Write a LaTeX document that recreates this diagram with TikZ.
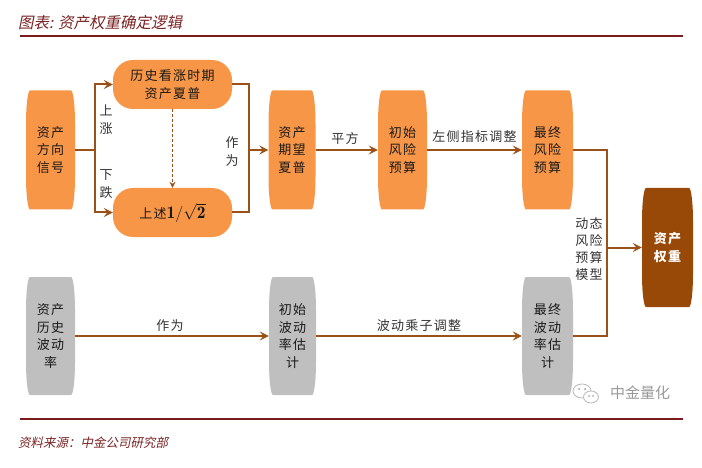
\documentclass[tikz,border=0pt]{standalone}
\usepackage{fontspec}
\usetikzlibrary{arrows.meta,calc}
\newfontfamily\cjk[LetterSpace=10]{Noto Sans CJK SC}
\newfontfamily\cjkit[FakeSlant=0.2]{Noto Sans CJK SC}
\newfontfamily\cjkplain{Noto Sans CJK SC}
\definecolor{orng}{HTML}{F79646}
\definecolor{gry}{HTML}{BFBFBF}
\definecolor{dbrown}{HTML}{984807}
\definecolor{conn}{HTML}{9A5218}
\definecolor{rulecol}{HTML}{7B1B1B}
\definecolor{ttl}{HTML}{7A2323}
\definecolor{lbl}{HTML}{333333}
\definecolor{wm}{HTML}{999999}
\newcommand\halfsym{\scalebox{1.35}{$\mathbf{1}/\sqrt{\mathbf{2}}$}}
\tikzset{
  barrel/.style={inner sep=0pt, align=center, minimum height=119pt, minimum width=49pt,
    font=\cjk\fontsize{13}{17.5}\selectfont, text=black!90,
    path picture={\fill[#1] let \p1=(path picture bounding box.north west),
        \p2=(path picture bounding box.south east), \n1={4pt}, \n2={0.28*(\y1-\y2)} in
        (\x1+\n1,\y1) -- (\x2-\n1,\y1)
        .. controls (\x2-0.45*\n1,\y1) and (\x2,\y1-0.45*\n2) .. (\x2,\y1-\n2)
        -- (\x2,\y2+\n2)
        .. controls (\x2,\y2+0.45*\n2) and (\x2-0.45*\n1,\y2) .. (\x2-\n1,\y2)
        -- (\x1+\n1,\y2)
        .. controls (\x1+0.45*\n1,\y2) and (\x1,\y2+0.45*\n2) .. (\x1,\y2+\n2)
        -- (\x1,\y1-\n2)
        .. controls (\x1,\y1-0.45*\n2) and (\x1+0.45*\n1,\y1) .. cycle;}},
  pill/.style={rounded corners=20pt, fill=orng, minimum width=119pt, minimum height=49pt,
    inner sep=0pt, align=center, font=\cjk\fontsize{13}{18}\selectfont, text=black!90},
  lab/.style={font=\cjk\fontsize{13}{18}\selectfont, text=lbl, align=center, inner sep=1pt},
  ln/.style={draw=conn, line width=2pt},
  arr/.style={draw=conn, line width=2pt, -{Stealth[length=9pt,width=9pt,inset=3.5pt]}},
}
\begin{document}
\begin{tikzpicture}[x=1pt,y=-1pt]
\useasboundingbox (0,0) rectangle (702,468);
% title and rules
\node[anchor=west, inner sep=0pt, font=\cjkit\fontsize{15.5}{18}\selectfont, text=ttl] (title) at (18,23) {图表: 资产权重确定逻辑};
\draw[rulecol, line width=2.2pt] (20,36) -- (683,36);
\draw[rulecol, line width=2.2pt] (20,419) -- (683,419);
\node[anchor=west, inner sep=0pt, font=\cjkit\fontsize{12.5}{15}\selectfont, text=ttl] (src) at (18,443) {资料来源：中金公司研究部};
% nodes
\node[barrel=orng] (sig) at (50.5,150) {资产\\方向\\信号};
\node[pill] (hist) at (172.5,84.5) {历史看涨时期\\资产夏普};
\node[pill] (half) at (172.5,212.5) {上述\halfsym};
\node[barrel=orng, minimum width=47pt] (exp) at (292,150) {资产\\期望\\夏普};
\node[barrel=orng] (init) at (402.5,150) {初始\\风险\\预算};
\node[barrel=orng, minimum width=51pt] (fin) at (547.5,150) {最终\\风险\\预算};
\node[barrel=dbrown, minimum width=51pt, text=white, font=\cjk\bfseries\fontsize{13}{17.5}\selectfont] (wt) at (667.5,247.5) {资产\\权重};
\node[barrel=gry, minimum height=118pt] (vol) at (50.5,336) {资产\\历史\\波动\\率};
\node[barrel=gry, minimum height=118pt, minimum width=47pt] (ivol) at (292.5,336) {初始\\波动\\率估\\计};
\node[barrel=gry, minimum height=118pt, minimum width=51pt] (fvol) at (547.5,336) {最终\\波动\\率估\\计};
% junction coordinates
\coordinate (sx) at (95,150);
\coordinate (mx) at (249,150);
\coordinate (rx) at (607,247.5);
% connectors
\draw[arr] (sig.east) -- (sx) |- (hist.west);
\draw[arr] (sx) |- (half.west);
\draw[draw=conn, line width=1pt, dash pattern=on 3pt off 2pt, -{Stealth[length=6pt,width=6pt,inset=2pt]}] (hist.south) -- (half.north);
\draw[ln] (hist.east) -| (mx) |- (half.east);
\draw[arr] (mx) -- (exp.west);
\draw[arr] (exp.east) -- (init.west);
\draw[arr] (init.east) -- (fin.west);
\draw[ln] (fin.east) -| (rx) |- (fvol.east);
\draw[arr] (rx) -- (wt.west);
\draw[arr] (vol.east) -- (ivol.west);
\draw[arr] (ivol.east) -- (fvol.west);
% labels
\node[lab] (lup) at (106,120) {上\\涨};
\node[lab] (ldown) at (106,184) {下\\跌};
\node[lab] (las1) at (232,152) {作\\为};
\node[lab] (lsq) at (345,139) {平方};
\node[lab] (lleft) at (474.5,137) {左侧指标调整};
\node[lab, font=\cjk\fontsize{13}{17}\selectfont] (ldyn) at (589,249) {动态\\风险\\预算\\模型};
\node[lab] (las2) at (170,326) {作为};
\node[lab] (lmult) at (419,326) {波动乘子调整};
% watermark
\draw[wm!70, line width=0.8pt] (582,391) ellipse [x radius=9, y radius=7];
\draw[wm!70, line width=0.8pt, fill=white] (591,397) ellipse [x radius=7.5, y radius=6];
\fill[wm] (579,389) circle (1) (585,389) circle (1) (589,396) circle (0.8) (593,396) circle (0.8);
\node[anchor=center, inner sep=0pt, font=\cjkplain\fontsize{15}{18}\selectfont, text=wm] (wmtext) at (640,393) {中金量化};
\end{tikzpicture}
\end{document}
